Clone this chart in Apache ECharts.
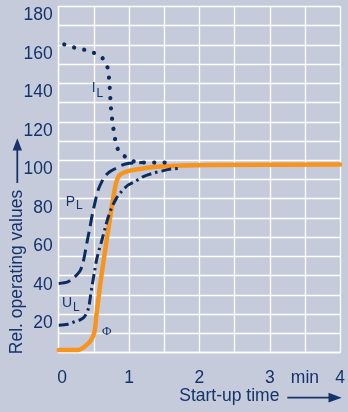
<!DOCTYPE html>
<html>
<head>
<meta charset="utf-8">
<script src="https://cdn.jsdelivr.net/npm/echarts@6/dist/echarts.min.js"></script>
<style>
  html, body { margin: 0; padding: 0; background: #c6cbdc; }
  #chart { width: 348px; height: 412px; }
</style>
</head>
<body>
<div id="chart"></div>
<script>
// ---- Data (time in min, relative operating values) ----
const tIL = [0.079, 0.22, 0.367, 0.503, 0.622, 0.693, 0.725, 0.743, 0.777, 0.834, 0.933, 1.05, 1.2, 1.64];
const vIL = [160.2, 158.6, 157.4, 155.8, 153.1, 148.4, 137.7, 127.0, 116.6, 106.3, 102.2, 99.6, 98.8, 98.8];

const tPL = [0, 0.13, 0.216, 0.30, 0.34, 0.37, 0.404, 0.433, 0.481, 0.513, 0.56, 0.608, 0.66, 0.725, 0.80, 0.89, 1.0, 1.2];
const vPL = [36.0, 36.8, 39.0, 42.3, 46.0, 51.0, 57.7, 63.0, 72.4, 77.6, 84.5, 88.5, 91.8, 94.0, 95.6, 97.3, 98.4, 98.8];

const tUL = [0, 0.131, 0.226, 0.311, 0.367, 0.424, 0.447, 0.471, 0.509, 0.537, 0.574, 0.608, 0.654, 0.704, 0.749, 0.82, 0.89, 0.984, 1.078, 1.196, 1.337, 1.478, 1.597, 1.714];
const vUL = [14.3, 14.8, 16.1, 17.2, 18.7, 23.1, 28.3, 34.0, 42.1, 48.1, 53.4, 57.7, 64.0, 70.5, 75.0, 80.2, 83.6, 87.1, 88.8, 91.4, 93.2, 94.5, 95.4, 95.8];

const tPhi = [0, 0.273, 0.367, 0.461, 0.509, 0.531, 0.565, 0.602, 0.65, 0.725, 0.782, 0.814, 0.866, 1.0, 1.196, 1.385, 2.139, 4.0];
const vPhi = [1.4, 1.4, 3.1, 6.6, 10.9, 17.9, 28.3, 38.6, 50.8, 68.9, 81.9, 88.0, 92.3, 94.5, 95.7, 96.6, 97.5, 97.8];

// Tick labels
const xLabelValues = [0, 1, 2, 3, 3.5, 4];
const xLabelTexts = ['0', '1', '2', '3', 'min', '4'];
const yLabelValues = [20, 40, 60, 80, 100, 120, 140, 160, 180];

// Curve labels: main letter position and subscript position (t, v)
const curveLabelNames = ['I', 'P', 'U'];
const curveLabelPos = [[0.499, 137.3], [0.167, 78.4], [0.12, 25.7]];
const curveSubPos = [[0.584, 134.7], [0.295, 76.3], [0.249, 23.3]];
const phiLabelPos = [0.683, 10.9];

const axisTitleX = 'Start-up time';
const axisTitleY = 'Rel. operating values';

// ---- Styling ----
const BG = '#c6cbdc';
const NAVY = '#14336a';
const LINE = '#0c2b5e';
const ORANGE = '#f7941d';
const FONT = 'Liberation Sans, Arial, sans-serif';

function zip(a, b) { return a.map((x, i) => [x, b[i]]); }

const chart = echarts.init(document.getElementById('chart'), null, { renderer: 'canvas' });

const option = {
  animation: false,
  backgroundColor: BG,
  grid: { left: 58.7, right: 6.3, top: 6.3, bottom: 59.3, containLabel: false },
  xAxis: {
    type: 'value', min: 0, max: 4, interval: 0.5,
    axisLine: { show: true, lineStyle: { color: '#ffffff', width: 1.3 } },
    axisTick: { show: false },
    splitLine: { show: true, lineStyle: { color: '#ffffff', width: 1.3 } },
    axisLabel: {
      margin: 16, fontSize: 17.5, color: NAVY, fontFamily: FONT,
      formatter: function (v) {
        const i = xLabelValues.findIndex(a => Math.abs(a - v) < 1e-6);
        if (i < 0) return '';
        return i === 0 ? '{z|' + xLabelTexts[i] + '}' : xLabelTexts[i];
      },
      rich: { z: { padding: [0, 0, 0, 7], fontSize: 17.5, color: NAVY, fontFamily: FONT } }
    }
  },
  yAxis: {
    type: 'value', min: 0, max: 180, interval: 10,
    axisLine: { show: true, lineStyle: { color: '#ffffff', width: 1.3 } },
    axisTick: { show: false },
    splitLine: { show: true, lineStyle: { color: '#ffffff', width: 1.3 } },
    axisLabel: {
      margin: 6, fontSize: 17.5, color: NAVY, fontFamily: FONT,
      verticalAlign: 'top', lineHeight: 18,
      formatter: function (v) {
        const r = Math.round(v);
        return (Math.abs(v - r) < 1e-6 && yLabelValues.indexOf(r) >= 0) ? String(r) : '';
      }
    }
  },
  series: [
    {
      name: 'Phi', type: 'line', data: zip(tPhi, vPhi), showSymbol: false, smooth: 0.3,
      lineStyle: { color: ORANGE, width: 4.5, cap: 'round', join: 'round' }, z: 2
    },
    {
      name: 'PL', type: 'line', data: zip(tPL, vPL), showSymbol: false, smooth: 0.3,
      lineStyle: { color: LINE, width: 3, type: [12, 6], cap: 'butt' }, z: 3
    },
    {
      name: 'UL', type: 'line', data: zip(tUL, vUL), showSymbol: false, smooth: 0.3,
      lineStyle: { color: LINE, width: 3, type: [10, 4, 2.5, 4], cap: 'butt' }, z: 3
    },
    {
      name: 'IL', type: 'line', data: zip(tIL, vIL), showSymbol: false, smooth: 0.3,
      lineStyle: { color: LINE, width: 4.2, type: [0.1, 10.2], cap: 'round' }, z: 4
    }
  ]
};
chart.setOption(option);

// ---- Labels and axis titles with arrows ----
const px = (p) => chart.convertToPixel({ gridIndex: 0 }, p);
const elements = [];
curveLabelNames.forEach((n, i) => {
  const m = px(curveLabelPos[i]);
  const s = px(curveSubPos[i]);
  elements.push({ type: 'text', x: m[0], y: m[1], silent: true, z: 10,
    style: { text: n, fill: NAVY, font: '14px ' + FONT, align: 'center', verticalAlign: 'middle' } });
  elements.push({ type: 'text', x: s[0], y: s[1], silent: true, z: 10,
    style: { text: 'L', fill: NAVY, font: '12px ' + FONT, align: 'center', verticalAlign: 'middle' } });
});
const ph = px(phiLabelPos);
elements.push({ type: 'text', x: ph[0], y: ph[1], silent: true, z: 10,
  style: { text: 'Φ', fill: NAVY, font: '13px Liberation Serif, DejaVu Serif, serif', align: 'center', verticalAlign: 'middle' } });

// Y axis title + up arrow
elements.push({ type: 'text', x: 17.2, y: 272, rotation: Math.PI / 2, silent: true,
  style: { text: axisTitleY, fill: NAVY, font: '17.5px ' + FONT, align: 'center', verticalAlign: 'middle' } });
elements.push({ type: 'line', silent: true, shape: { x1: 17.3, y1: 183, x2: 17.3, y2: 149 },
  style: { stroke: NAVY, lineWidth: 1.8 } });
elements.push({ type: 'polygon', silent: true, shape: { points: [[17.3, 138.3], [12.6, 150.5], [22, 150.5]] },
  style: { fill: NAVY } });

// X axis title + right arrow
elements.push({ type: 'text', x: 229.3, y: 396.6, silent: true,
  style: { text: axisTitleX, fill: NAVY, font: '17.5px ' + FONT, align: 'center', verticalAlign: 'middle' } });
elements.push({ type: 'line', silent: true, shape: { x1: 287.3, y1: 397.7, x2: 330, y2: 397.7 },
  style: { stroke: NAVY, lineWidth: 1.8 } });
elements.push({ type: 'polygon', silent: true, shape: { points: [[341.7, 397.7], [328.5, 392.8], [328.5, 402.6]] },
  style: { fill: NAVY } });

chart.setOption({ graphic: elements });
</script>
</body>
</html>
